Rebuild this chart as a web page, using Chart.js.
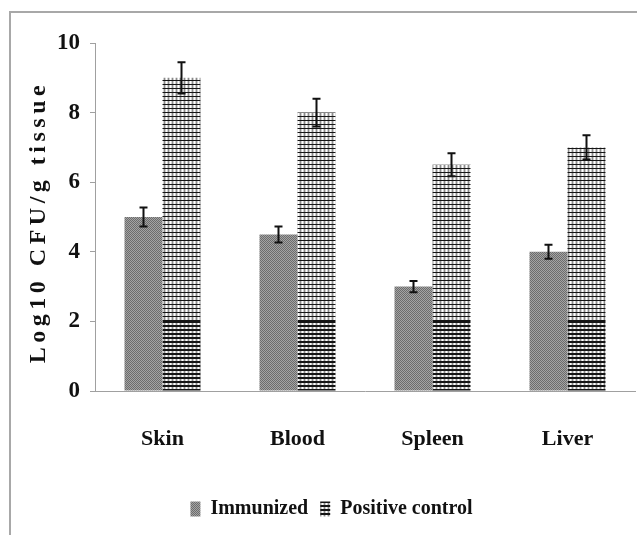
<!DOCTYPE html>
<html>
<head>
<meta charset="utf-8">
<script src="https://cdn.jsdelivr.net/npm/chart.js@4.4.0/dist/chart.umd.min.js"></script>
<style>
  html, body { margin: 0; padding: 0; background: #fff; }
  #frame { position: absolute; left: 9px; top: 11px; width: 640px; height: 540px;
           border-left: 2px solid #a8a8a8; border-top: 2px solid #a8a8a8; }
  #wrap { position: absolute; left: 0; top: 0; width: 637px; height: 535px; }
</style>
</head>
<body>
<div id="frame"></div>
<div id="wrap"><canvas id="grafico"></canvas></div>
<script>
// Datos
const categorias = ["Skin", "Blood", "Spleen", "Liver"];
const inmunizado = [5, 4.5, 3, 4];
const inmunizadoErr = [0.27, 0.23, 0.16, 0.2];
const control = [9, 8, 6.5, 7];
const controlErr = [0.45, 0.4, 0.33, 0.35];
const ticksY = [0, 2, 4, 6, 8, 10];

const serif = "'Liberation Serif', 'Times New Roman', serif";

// Trama gris punteada (Immunized)
function tramaGris() {
  const c = document.createElement("canvas");
  c.width = 2; c.height = 2;
  const g = c.getContext("2d");
  g.fillStyle = "#a4a4a4"; g.fillRect(0, 0, 2, 2);
  g.fillStyle = "#6c6c6c"; g.fillRect(0, 0, 1, 1); g.fillRect(1, 1, 1, 1);
  return g.createPattern(c, "repeat");
}

// Trama cuadriculada (Positive control), más densa debajo de y = 2
let cacheCorte = null, cachePatron = null;
function tramaCuadros(chart) {
  const y = chart.scales && chart.scales.y;
  let corte = 320;
  if (y && y.bottom > y.top) corte = Math.round(y.getPixelForValue(2));
  if (cachePatron && cacheCorte === corte) return cachePatron;
  const alto = chart.height || 535;
  const c = document.createElement("canvas");
  c.width = 4; c.height = alto;
  const g = c.getContext("2d");
  g.fillStyle = "#ffffff"; g.fillRect(0, 0, 4, alto);
  g.fillStyle = "#8a8a8a"; g.fillRect(0, 0, 1, alto);
  g.fillStyle = "#cfcfcf"; g.fillRect(1, 0, 1, alto); g.fillRect(3, 0, 1, alto);
  g.fillStyle = "#151515";
  for (let i = 0; i < corte; i++) if ((corte - i) % 4 === 1) g.fillRect(0, i, 4, 1);
  for (let i = corte; i < alto; i++) if ((i - corte) % 4 < 2) g.fillRect(0, i, 4, 1);
  cacheCorte = corte;
  cachePatron = chart.ctx.createPattern(c, "repeat");
  return cachePatron;
}

// Barras de error
const barrasError = {
  id: "barrasError",
  afterDatasetsDraw(chart) {
    const ctx = chart.ctx, y = chart.scales.y;
    const errores = [inmunizadoErr, controlErr];
    ctx.save();
    ctx.strokeStyle = "#111";
    ctx.lineWidth = 2;
    chart.data.datasets.forEach((ds, i) => {
      chart.getDatasetMeta(i).data.forEach((bar, j) => {
        const v = ds.data[j], e = errores[i][j];
        const yA = y.getPixelForValue(v + e), yB = y.getPixelForValue(v - e);
        ctx.beginPath();
        ctx.moveTo(bar.x, yA); ctx.lineTo(bar.x, yB);
        ctx.moveTo(bar.x - 4, yA); ctx.lineTo(bar.x + 4, yA);
        ctx.moveTo(bar.x - 4, yB); ctx.lineTo(bar.x + 4, yB);
        ctx.stroke();
      });
    });
    ctx.restore();
  }
};

// Título del eje Y con espaciado entre letras
const tituloY = {
  id: "tituloY",
  afterDraw(chart) {
    const ctx = chart.ctx, y = chart.scales.y;
    ctx.save();
    ctx.translate(39, (y.top + y.bottom) / 2 + 5);
    ctx.rotate(-Math.PI / 2);
    ctx.font = "bold 24px " + serif;
    ctx.letterSpacing = "4.5px";
    ctx.fillStyle = "#111";
    ctx.textAlign = "center";
    ctx.textBaseline = "middle";
    ctx.fillText("Log10 CFU/g tissue", 0, 0);
    ctx.restore();
  }
};

new Chart(document.getElementById("grafico"), {
  type: "bar",
  data: {
    labels: categorias,
    datasets: [
      {
        label: "Immunized",
        data: inmunizado,
        backgroundColor: tramaGris(),
        borderWidth: 0
      },
      {
        label: "Positive control",
        data: control,
        backgroundColor: (c) => tramaCuadros(c.chart),
        borderWidth: 0
      }
    ]
  },
  options: {
    responsive: true,
    maintainAspectRatio: false,
    animation: false,
    categoryPercentage: 0.563,
    barPercentage: 1,
    layout: { padding: { top: 43, right: 2, bottom: 6, left: 28 } },
    scales: {
      x: {
        grid: { display: false },
        border: { color: "#a0a0a0", width: 1 },
        ticks: { color: "#111", padding: 27, font: { family: serif, size: 22, weight: "bold" } },
        afterFit(s) { s.height = 96; }
      },
      y: {
        min: 0,
        max: 10,
        afterBuildTicks(s) { s.ticks = ticksY.map(v => ({ value: v })); },
        grid: { drawOnChartArea: false, tickLength: 5, color: "#a0a0a0" },
        border: { color: "#a0a0a0", width: 1 },
        ticks: { color: "#111", padding: 10, font: { family: serif, size: 23, weight: "bold" } },
        afterFit(s) { s.width = 67; }
      }
    },
    plugins: {
      legend: {
        position: "bottom",
        labels: {
          color: "#111",
          boxWidth: 10,
          boxHeight: 15,
          padding: 12,
          font: { family: serif, size: 20, weight: "bold" }
        }
      },
      tooltip: { enabled: false }
    }
  },
  plugins: [barrasError, tituloY]
});
</script>
</body>
</html>
